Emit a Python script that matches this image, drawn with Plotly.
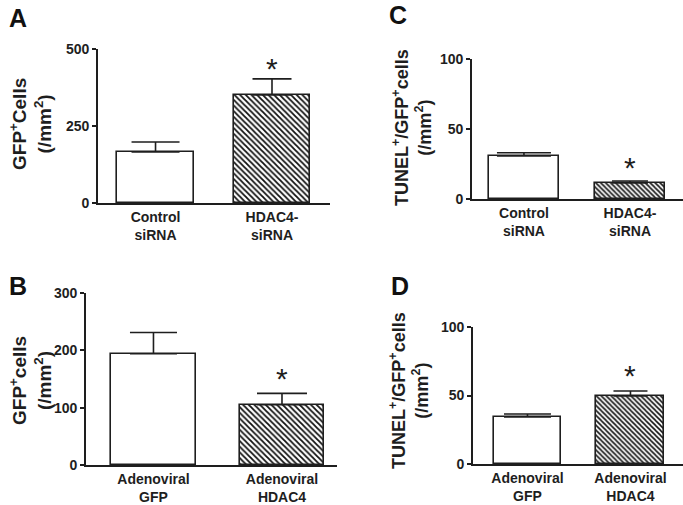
import plotly.graph_objects as go

# ---- data ----
cat_A = ["Control<br>siRNA", "HDAC4-<br>siRNA"]
mean_A = [166, 351]
sem_A = [32, 52]

cat_C = ["Control<br>siRNA", "HDAC4-<br>siRNA"]
mean_C = [30.7, 11.4]
sem_C = [2.3, 1.5]

cat_B = ["Adenoviral<br>GFP", "Adenoviral<br>HDAC4"]
mean_B = [194, 105]
sem_B = [37, 20]

cat_D = ["Adenoviral<br>GFP", "Adenoviral<br>HDAC4"]
mean_D = [34.3, 49.6]
sem_D = [2.2, 3.7]

W, H = 683, 505
FONT = "Arial, Liberation Sans, sans-serif"
INK = "#1e1e1e"

panels = [
    dict(k="A", cats=cat_A, m=mean_A, s=sem_A, ymax=500, dt=250, xp=(98, 330), yp=(49, 203),
         xr=(-0.494, 1.498), cap=(24, 19.5), title="GFP<sup>+</sup>Cells<br>(/mm<sup>2</sup>)",
         tp=(30, 124), lp=(18, 18), ss=16, ts=19, hs=4),
    dict(k="C", cats=cat_C, m=mean_C, s=sem_C, ymax=100, dt=50, xp=(472, 683), yp=(59, 199),
         xr=(-0.49, 1.50), cap=(27, 18), title="TUNEL<sup>+</sup>/GFP<sup>+</sup>cells<br>(/mm<sup>2</sup>)",
         tp=(412, 128), lp=(398, 15), ss=19, ts=18, hs=3.5),
    dict(k="B", cats=cat_B, m=mean_B, s=sem_B, ymax=300, dt=100, xp=(86, 337), yp=(293, 465),
         xr=(-0.525, 1.428), cap=(23.5, 25), title="GFP<sup>+</sup>cells<br>(/mm<sup>2</sup>)",
         tp=(30, 381), lp=(18, 286), ss=21, ts=19, hs=4),
    dict(k="D", cats=cat_D, m=mean_D, s=sem_D, ymax=100, dt=50, xp=(473, 683), yp=(327, 464),
         xr=(-0.529, 1.51), cap=(23.5, 17), title="TUNEL<sup>+</sup>/GFP<sup>+</sup>cells<br>(/mm<sup>2</sup>)",
         tp=(409, 391), lp=(400, 286), ss=21, ts=18, hs=3.5),
]

fig = go.Figure()
annotations = []
for i, p in enumerate(panels):
    n = "" if i == 0 else str(i + 1)
    xa, ya = "x" + n, "y" + n
    for j in range(2):
        fig.add_trace(go.Bar(
            x=[j], y=[p["m"][j]], width=0.66, xaxis=xa, yaxis=ya,
            marker=dict(color="white", line=dict(color=INK, width=1.6),
                        pattern=dict(shape="" if j == 0 else "\\", size=p["hs"], solidity=0.45,
                                     fgcolor="#111111", fgopacity=1, bgcolor="white",
                                     fillmode="overlay")),
            error_y=dict(type="data", array=[p["s"][j]], arrayminus=[0], symmetric=False,
                         color=INK, thickness=1.6, width=p["cap"][j]),
            showlegend=False, hoverinfo="skip",
        ))
    nt = int(round(p["ymax"] / p["dt"]))
    fig.layout["xaxis" + n] = dict(
        domain=[p["xp"][0] / W, p["xp"][1] / W], range=list(p["xr"]), anchor=ya,
        tickvals=[0, 1], ticktext=p["cats"], ticks="", showline=True, linecolor=INK,
        linewidth=1.8, showgrid=False, zeroline=False, fixedrange=True, automargin=False,
        tickfont=dict(family=FONT, size=14, color=INK, weight="bold"),
    )
    fig.layout["yaxis" + n] = dict(
        domain=[1 - p["yp"][1] / H, 1 - p["yp"][0] / H], range=[0, p["ymax"]], anchor=xa,
        tickvals=[k * p["dt"] for k in range(nt + 1)],
        ticks="outside", ticklen=4, tickwidth=1.6, tickcolor=INK, automargin=False,
        showline=True, linecolor=INK, linewidth=1.8, showgrid=False, zeroline=False,
        tickfont=dict(family=FONT, size=14, color=INK, weight="bold"), fixedrange=True,
    )
    annotations.append(dict(x=1, y=p["m"][1] + p["s"][1], xref=xa, yref=ya, text="*",
                            showarrow=False, yanchor="middle", yshift=p["ss"] - 6,
                            font=dict(family=FONT, size=30, color=INK)))
    annotations.append(dict(x=p["tp"][0] / W, y=1 - p["tp"][1] / H, xref="paper", yref="paper",
                            text=p["title"], textangle=-90, showarrow=False,
                            xanchor="center", yanchor="middle",
                            font=dict(family=FONT, size=p["ts"], color=INK, weight="bold")))
    annotations.append(dict(x=p["lp"][0] / W, y=1 - p["lp"][1] / H, xref="paper", yref="paper",
                            text=p["k"], showarrow=False, xanchor="center", yanchor="middle",
                            font=dict(family=FONT, size=25, color="#111", weight="bold")))

fig.update_layout(
    width=W, height=H, margin=dict(l=0, r=0, t=0, b=0, autoexpand=False),
    paper_bgcolor="white", plot_bgcolor="white",
    annotations=annotations, bargap=0,
)
fig.write_html("out.html", config={"displayModeBar": False},
               post_script="document.body.style.margin='0';document.body.style.overflow='hidden';")
